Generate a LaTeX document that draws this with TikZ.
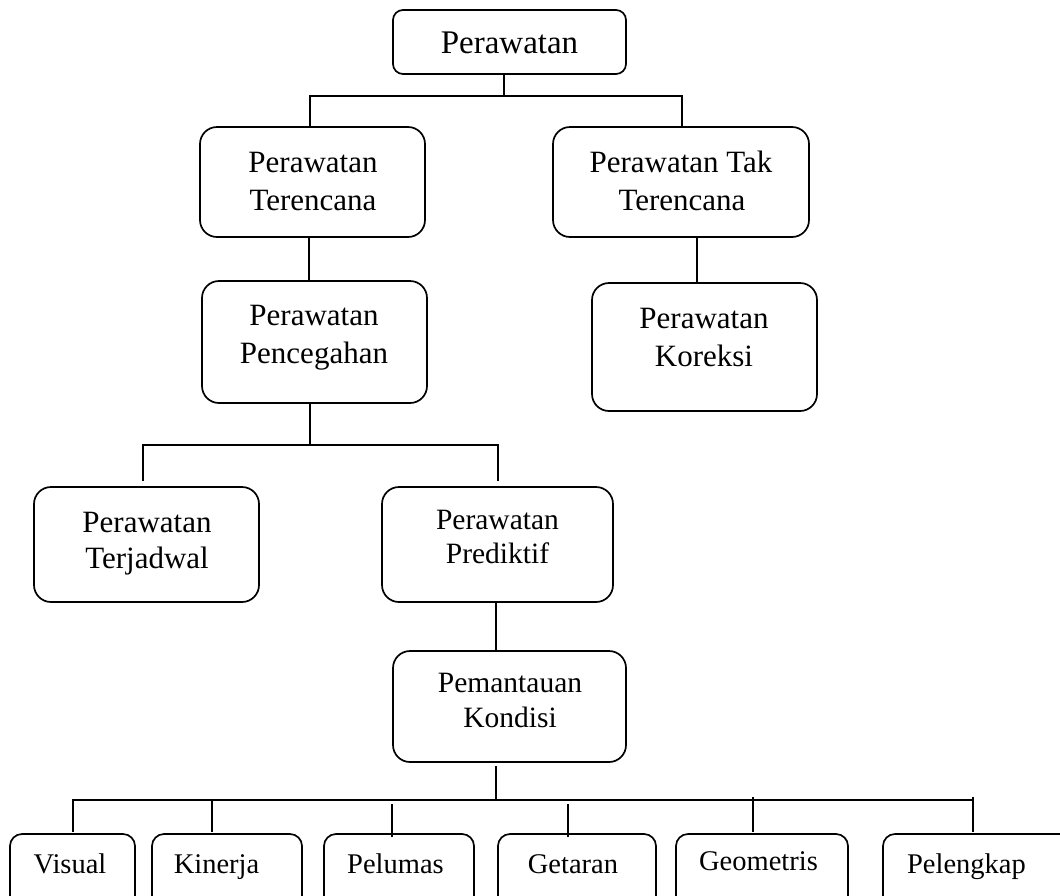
\documentclass[tikz,border=0pt]{standalone}
\usepackage{fontspec}
\setmainfont{Liberation Serif}
\begin{document}
\begin{tikzpicture}[x=1pt,y=-1pt,
  box/.style={draw, rounded corners=#1, line width=1.7pt, inner sep=0pt},
  conn/.style={line width=1.7pt},
  txt/.style={inner sep=0pt, anchor=base, font=\fontsize{31}{36}\selectfont},
  txtbig/.style={inner sep=0pt, anchor=base, font=\fontsize{33}{38}\selectfont},
  txtmid/.style={inner sep=0pt, anchor=base, font=\fontsize{29.5}{34}\selectfont},
  txtsmall/.style={inner sep=0pt, anchor=base, font=\fontsize{28.5}{32}\selectfont}]
\useasboundingbox (0,0) rectangle (1060,895);
\fill[white] (0,0) rectangle (1060,895);
\clip (0,0) rectangle (1060,895);

% boxes
\node[box=10, minimum width=233pt, minimum height=64pt] (top) at (509.5,42) {};
\node[box=17, minimum width=225pt, minimum height=110pt] (ter) at (312.5,182) {};
\node[box=17, minimum width=256pt, minimum height=110pt] (tak) at (681,182) {};
\node[box=17, minimum width=225pt, minimum height=122pt] (pen) at (314.5,342) {};
\node[box=17, minimum width=225pt, minimum height=128pt] (kor) at (704.5,347) {};
\node[box=17, minimum width=225pt, minimum height=115pt] (jad) at (146.5,544.5) {};
\node[box=17, minimum width=231pt, minimum height=115pt] (pre) at (497.5,544.5) {};
\node[box=17, minimum width=233pt, minimum height=111pt] (pem) at (509.5,706.5) {};
\node[box=12, minimum width=125pt, minimum height=76pt] (vis) at (72.5,872) {};
\node[box=12, minimum width=150pt, minimum height=76pt] (kin) at (227,872) {};
\node[box=12, minimum width=150pt, minimum height=76pt] (pel) at (399,872) {};
\node[box=12, minimum width=158pt, minimum height=76pt] (get) at (577,872) {};
\node[box=12, minimum width=172pt, minimum height=76pt] (geo) at (762,872) {};
\node[box=12, minimum width=197pt, minimum height=76pt] (lgk) at (981.5,872) {};

% texts
\node[txtbig] (top1) at (509.5,53) {Perawatan};
\node[txt] (ter1) at (313,172) {Perawatan};
\node[txt] (ter2) at (313,210) {Terencana};
\node[txt] (tak1) at (681,172) {Perawatan Tak};
\node[txt] (tak2) at (682,210) {Terencana};
\node[txt] (pen1) at (314,325) {Perawatan};
\node[txt] (pen2) at (314,363) {Pencegahan};
\node[txt] (kor1) at (704,328) {Perawatan};
\node[txt] (kor2) at (704,366) {Koreksi};
\node[txt] (jad1) at (147,532) {Perawatan};
\node[txt] (jad2) at (147,568) {Terjadwal};
\node[txtmid] (pre1) at (497.5,529) {Perawatan};
\node[txtmid] (pre2) at (497.5,563) {Prediktif};
\node[txtmid] (pem1) at (510,692) {Pemantauan};
\node[txtmid] (pem2) at (510,727) {Kondisi};
\node[txtsmall] (vis1) at (70,873) {Visual};
\node[txtsmall] (kin1) at (216.5,873) {Kinerja};
\node[txtsmall] (pel1) at (395.5,873) {Pelumas};
\node[txtsmall] (get1) at (573,873) {Getaran};
\node[txtsmall] (geo1) at (758.5,870) {Geometris};
\node[txtsmall] (lgk1) at (966.5,873) {Pelengkap};

% junction coordinates
\coordinate (h1) at (504,97);
\coordinate (b1l) at (310,96);
\coordinate (b1r) at (682,96);
\coordinate (v1) at (309,0);
\coordinate (v2) at (697,0);
\coordinate (h2) at (310,445);
\coordinate (b2l) at (143,445);
\coordinate (b2r) at (498,445);
\coordinate (v3) at (496,0);
\coordinate (h3) at (496,800);
\coordinate (b3l) at (73,800);
\coordinate (b3r) at (973,800);
\coordinate (d2) at (212,800);
\coordinate (d3) at (392,804);
\coordinate (d4) at (568,804);
\coordinate (d5) at (753,797);
\coordinate (d6) at (973,797);

% connectors
\draw[conn] (top.south -| h1) -- (h1);
\draw[conn] (ter.north -| b1l) -- (b1l) -- (b1r) -- (tak.north -| b1r);
\draw[conn] (ter.south -| v1) -- (pen.north -| v1);
\draw[conn] (tak.south -| v2) -- (kor.north -| v2);
\draw[conn] (pen.south -| h2) -- (h2);
\draw[conn] ([yshift=5pt]jad.north -| b2l) -- (b2l) -- (b2r) -- ([yshift=5pt]pre.north -| b2r);
\draw[conn] (pre.south -| v3) -- (pem.north -| v3);
\draw[conn] ([yshift=-3pt]pem.south -| h3) -- (h3);
\draw[conn] ([yshift=1pt]vis.north -| b3l) -- (b3l) -- (b3r);
\draw[conn] ([yshift=1pt]kin.north -| d2) -- (d2);
\draw[conn] ([yshift=-4pt]pel.north -| d3) -- (d3);
\draw[conn] ([yshift=-4pt]get.north -| d4) -- (d4);
\draw[conn] ([yshift=1pt]geo.north -| d5) -- (d5);
\draw[conn] ([yshift=1pt]lgk.north -| d6) -- (d6);
\end{tikzpicture}
\end{document}
